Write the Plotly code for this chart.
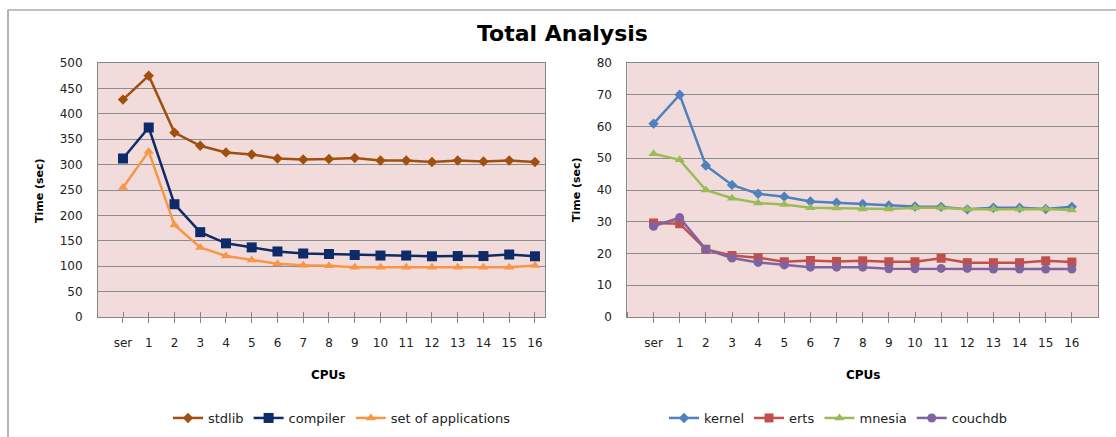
import plotly.graph_objects as go

categories = ["ser"] + [str(i) for i in range(1, 17)]

# Left chart series (seconds)
stdlib = [428, 475, 363, 337, 324, 320, 312, 310, 311, 313, 308, 308, 305, 308, 306, 308, 305]
compiler = [312, 373, 222, 167, 145, 137, 129, 125, 124, 122, 121, 121, 119.5, 120, 120, 123, 119.5]
set_of_applications = [255, 326, 181, 137, 120, 112, 105, 102, 101, 98, 98, 98, 98, 98, 98, 98, 101.5]

# Right chart series (seconds)
kernel = [60.9, 70, 47.7, 41.6, 38.8, 37.9, 36.4, 36.0, 35.6, 35.1, 34.8, 34.7, 33.9, 34.4, 34.4, 34.0, 34.7]
erts = [29.6, 29.4, 21.3, 19.4, 18.7, 17.4, 17.8, 17.5, 17.7, 17.4, 17.4, 18.5, 17.1, 17.1, 17.1, 17.7, 17.3]
mnesia = [51.4, 49.5, 40.0, 37.4, 35.9, 35.4, 34.4, 34.3, 34.0, 34.0, 34.4, 34.4, 33.9, 34.0, 34.0, 34.0, 33.7]
couchdb = [28.6, 31.3, 21.3, 18.6, 17.2, 16.4, 15.7, 15.7, 15.7, 15.2, 15.2, 15.3, 15.3, 15.1, 15.1, 15.1, 15.1]

xpos = list(range(len(categories)))
FONT = "DejaVu Sans"

fig = go.Figure()

def add(y, name, color, symbol, size, xaxis, yaxis, legend):
    fig.add_trace(go.Scatter(
        x=xpos, y=y, name=name, mode="lines+markers",
        line=dict(color=color, width=2.5),
        marker=dict(symbol=symbol, size=size, color=color),
        xaxis=xaxis, yaxis=yaxis, legend=legend,
    ))

add(stdlib, "stdlib", "#A0500E", "diamond", 8, "x", "y", "legend")
add(compiler, "compiler", "#0E2A68", "square", 10, "x", "y", "legend")
add(set_of_applications, "set of applications", "#F79646", "triangle-up", 9, "x", "y", "legend")

add(kernel, "kernel", "#4F81BD", "diamond", 8, "x2", "y2", "legend2")
add(erts, "erts", "#C0504D", "square", 9, "x2", "y2", "legend2")
add(mnesia, "mnesia", "#9BBB59", "triangle-up", 9, "x2", "y2", "legend2")
add(couchdb, "couchdb", "#8064A2", "circle", 9, "x2", "y2", "legend2")

W, H = 1116, 437
ytop = (H - 63) / H
ybot = (H - 317) / H

xcommon = dict(
    tickmode="array", tickvals=xpos, ticktext=categories,
    ticks="outside", ticklen=5, tickcolor="#868686",
    showgrid=False, zeroline=False, showline=True, linecolor="#868686", linewidth=1,
    mirror=True, tickfont=dict(family=FONT, size=12, color="#222222"),
    ticklabelstandoff=10, fixedrange=True, automargin=False,
    minor=dict(ticks="inside", ticklen=5, tickcolor="#868686", tick0=0.001, dtick=1, showgrid=False),
)
ycommon = dict(
    showgrid=True, gridcolor="#8C8C8C", gridwidth=1, zeroline=False,
    showline=True, linecolor="#868686", linewidth=1, mirror=True,
    ticks="", tickfont=dict(family=FONT, size=12, color="#222222"),
    ticklabelstandoff=12, fixedrange=True, automargin=False,
)

legend_common = dict(
    orientation="h", xanchor="center", yanchor="middle", xref="container", yref="container",
    font=dict(family=FONT, size=13, color="#222222"), bgcolor="rgba(0,0,0,0)",
    tracegroupgap=0, itemwidth=30,
)

fig.update_layout(
    width=W, height=H,
    margin=dict(l=0, r=0, t=0, b=0, autoexpand=False),
    paper_bgcolor="white", plot_bgcolor="#F2DCDB",
    font=dict(family=FONT, size=12, color="#222222"),
    title=dict(text="<b>Total Analysis</b>", x=562.5 / W, xanchor="center", xref="container", yref="container",
               y=(H - 33) / H, yanchor="middle", automargin=False,
               font=dict(family=FONT, size=22, color="black")),
    xaxis=dict(domain=[98 / W, 545 / W], range=[-0.97, 16.39], anchor="y", **xcommon),
    yaxis=dict(domain=[ybot, ytop], range=[0, 500], dtick=50, anchor="x", **ycommon),
    xaxis2=dict(domain=[627.4 / W, 1098 / W], range=[-1, 17], anchor="y2", **xcommon),
    yaxis2=dict(domain=[ybot, ytop], range=[0, 80], dtick=10, anchor="x2", **ycommon),
    legend=dict(x=342 / W, y=(H - 418) / H, **legend_common),
    legend2=dict(x=838 / W, y=(H - 418) / H, **legend_common),
    showlegend=True,
)

ann_font = dict(family=FONT, size=11, color="black")
fig.add_annotation(text="<b>Time (sec)</b>", xref="paper", yref="paper", x=39 / W, y=(H - 190) / H,
                   textangle=-90, showarrow=False, font=ann_font, xanchor="center", yanchor="middle")
fig.add_annotation(text="<b>Time (sec)</b>", xref="paper", yref="paper", x=576 / W, y=(H - 190) / H,
                   textangle=-90, showarrow=False, font=ann_font, xanchor="center", yanchor="middle")
fig.add_annotation(text="<b>CPUs</b>", xref="paper", yref="paper", x=328 / W, y=(H - 375) / H,
                   showarrow=False, font=dict(family=FONT, size=12, color="black"), xanchor="center", yanchor="middle")
fig.add_annotation(text="<b>CPUs</b>", xref="paper", yref="paper", x=863 / W, y=(H - 375) / H,
                   showarrow=False, font=dict(family=FONT, size=12, color="black"), xanchor="center", yanchor="middle")

# outer chart frame (top and left edges)
fig.add_shape(type="line", xref="paper", yref="paper", x0=7.5 / W, x1=1.0, y0=(H - 10) / H, y1=(H - 10) / H,
              line=dict(color="#ADADAD", width=1.5))
fig.add_shape(type="line", xref="paper", yref="paper", x0=8 / W, x1=8 / W, y0=0, y1=(H - 10) / H,
              line=dict(color="#B3B3B3", width=2))

fig.write_html(
    "out.html",
    config={"displayModeBar": False},
    post_script="document.body.style.margin='0';document.body.style.overflow='hidden';",
)
